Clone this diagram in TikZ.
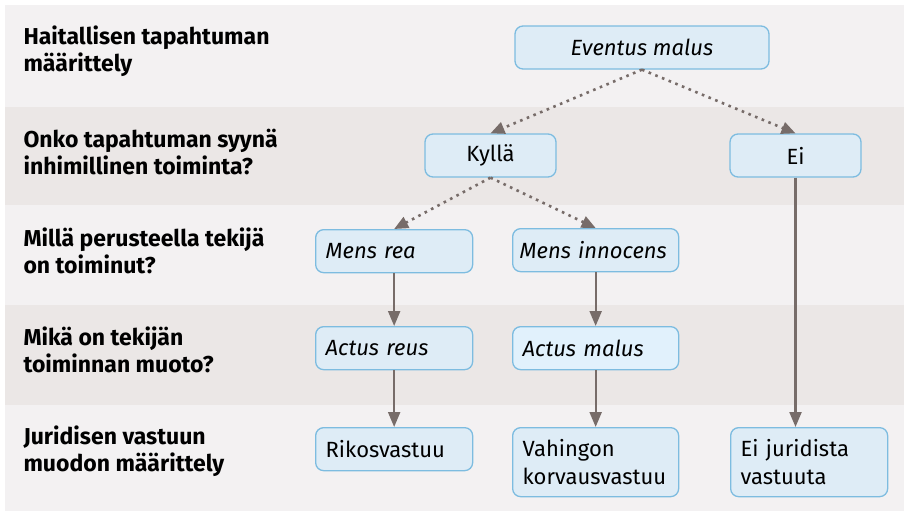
\documentclass[tikz,border=0pt]{standalone}
\usepackage{fontspec}
\setmainfont{Fira Sans}
\usepackage{tikz}
\usetikzlibrary{arrows.meta, positioning, backgrounds}
\definecolor{bandlight}{HTML}{F3F1F2}
\definecolor{banddark}{HTML}{EBE7E6}
\definecolor{boxfill}{HTML}{DEECF6}
\definecolor{boxfillb}{HTML}{E1F1FC}
\definecolor{boxline}{HTML}{7DBCE0}
\definecolor{arrowcol}{HTML}{776C69}

\begin{document}
\begin{tikzpicture}[
  x=1pt, y=-1pt,
  box/.style={draw=boxline, fill=boxfill, line width=1.3pt, rounded corners=8pt, minimum height=43pt, inner xsep=10pt, font=\fontsize{22}{28}\selectfont},
  leftbox/.style={box, anchor=north west, align=left, text width=#1},
  rowlabel/.style={anchor=west, align=left, font=\fontsize{23}{27}\selectfont\bfseries},
  solidarrow/.style={-{Triangle[length=15pt,width=12pt]}, line width=2.2pt, draw=arrowcol},
  dotarrow/.style={-{Triangle[length=14pt,width=12pt]}, line width=2.6pt, draw=arrowcol, dash pattern=on 2.6pt off 4.6pt}
]
\useasboundingbox (0,0) rectangle (904,511);

% bands
\fill[bandlight] (5,5) rectangle (904,107);
\fill[banddark]  (5,107) rectangle (904,205);
\fill[bandlight] (5,205) rectangle (904,305);
\fill[banddark]  (5,305) rectangle (904,405);
\fill[bandlight] (5,405) rectangle (904,511);

% row labels
\node[rowlabel] (lab1) at (20,51)  {Haitallisen tapahtuman\\määrittely};
\node[rowlabel] (lab2) at (20,152) {Onko tapahtuman syynä\\inhimillinen toiminta?};
\node[rowlabel] (lab3) at (20,251) {Millä perusteella tekijä\\on toiminut?};
\node[rowlabel] (lab4) at (20,350) {Mikä on tekijän\\toiminnan muoto?};
\node[rowlabel] (lab5) at (20,451) {Juridisen vastuun\\muodon määrittely};

% boxes
\node[box, minimum width=254pt] (eventus) at (642,47.5) {\textit{Eventus malus}};
\node[box, minimum width=131pt] (kylla) at (490.5,155.5) {Kyllä};
\node[box, minimum width=131pt] (ei) at (795.5,155.5) {Ei};
\node[leftbox=137pt] (mensrea) at (315,229) {\textit{Mens rea}};
\node[leftbox=152pt, inner xsep=7pt] (mensinn) at (512,228) {\mbox{\textit{Mens innocens}}};
\node[leftbox=137pt] (actusreus) at (315,326) {\textit{Actus reus}};
\node[leftbox=146pt, fill=boxfillb] (actusmalus) at (512,326) {\textit{Actus malus}};
\node[leftbox=137pt] (rikos) at (315,427) {Rikosvastuu};
\node[leftbox=146pt, minimum height=69pt] (vahinko) at (512,427) {Vahingon\\korvausvastuu};
\node[leftbox=137pt, minimum height=69pt] (eijur) at (730,427) {Ei juridista\\vastuuta};

% connectors
\draw[dotarrow] (eventus.south) -- (kylla.north);
\draw[dotarrow] (eventus.south) -- (ei.north);
\draw[dotarrow] (kylla.south) -- (mensrea.north);
\draw[dotarrow] (kylla.south) -- (mensinn.north);
\draw[solidarrow] (mensrea) -- (actusreus);
\draw[solidarrow] (actusreus) -- (rikos);
\draw[solidarrow] (mensinn) -- (actusmalus);
\draw[solidarrow] (actusmalus) -- (vahinko);
\draw[solidarrow] (ei.south) -- (ei.south |- eijur.north);
\end{tikzpicture}
\end{document}
